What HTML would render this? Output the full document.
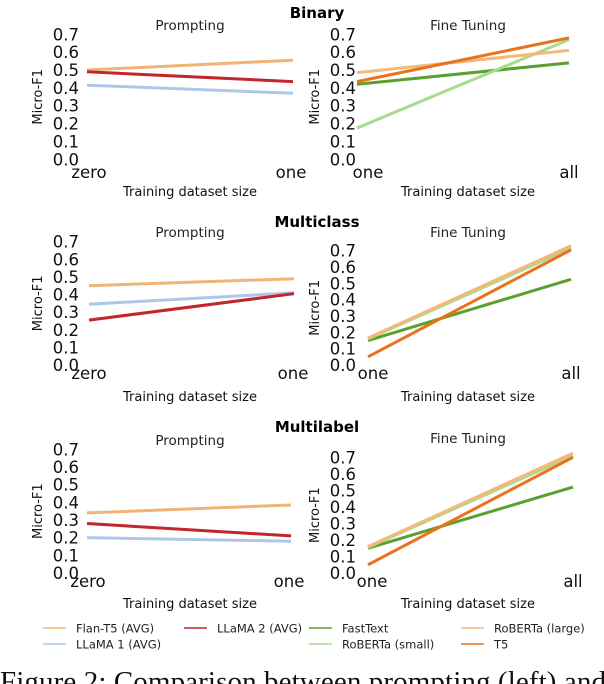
<!DOCTYPE html>
<html><head><meta charset="utf-8"><style>
body{margin:0;background:#fff;width:604px;height:684px;overflow:hidden}
svg{display:block}
text{font-family:"DejaVu Sans","Liberation Sans",sans-serif}
</style></head><body>
<svg id="c" width="604" height="684"></svg>
<script>
const seriesNames=["Flan-T5 (AVG)","LLaMA 1 (AVG)","LLaMA 2 (AVG)","FastText","RoBERTa (small)","RoBERTa (large)","T5"];
const seriesColors=["#f0b575","#aec7e8","#c1272d","#5aa02c","#a6dc8c","#f5b87a","#e8731c"];
const yTicks=[0,0.1,0.2,0.3,0.4,0.5,0.6,0.7];
const promptCats=["zero","one"];
const ftCats=["one","all"];
const rowTitles=["Binary","Multiclass","Multilabel"];
// prompting: Flan, LLaMA1, LLaMA2
const binPromptFlan=[0.50,0.555], binPromptL1=[0.415,0.37], binPromptL2=[0.49,0.435];
const mcPromptFlan=[0.45,0.49], mcPromptL1=[0.345,0.41], mcPromptL2=[0.255,0.405];
const mlPromptFlan=[0.34,0.385], mlPromptL1=[0.20,0.18], mlPromptL2=[0.28,0.21];
// fine tuning: FastText, RoBERTa small, RoBERTa large, T5
const binFtFast=[0.42,0.54], binFtSmall=[0.175,0.67], binFtLarge=[0.485,0.61], binFtT5=[0.435,0.68];
const mcFtFast=[0.15,0.525], mcFtSmall=[0.16,0.715], mcFtLarge=[0.165,0.73], mcFtT5=[0.05,0.705];
const mlFtFast=[0.15,0.52], mlFtSmall=[0.155,0.71], mlFtLarge=[0.16,0.725], mlFtT5=[0.05,0.70];

const svg=document.getElementById('c');
const NS='http://www.w3.org/2000/svg';
function mk(tag,attrs,txt){const e=document.createElementNS(NS,tag);for(const k in attrs)e.setAttribute(k,attrs[k]);if(txt!==undefined)e.textContent=txt;svg.appendChild(e);return e;}

const rows=[
 {title:rowTitles[0],ty:12,
  L:{y0:159.3,top:34.3,x0:87,x1:293,lab:[89,291],labY:178,titleY:31,labR:79},
  R:{y0:159.3,top:34.3,x0:357,x1:569,lab:[368,569],labY:178,titleY:31,labR:356},
  axY:196,
  prompt:[[binPromptFlan,0],[binPromptL1,1],[binPromptL2,2]],
  ft:[[binFtFast,3],[binFtSmall,4],[binFtLarge,5],[binFtT5,6]]},
 {title:rowTitles[1],ty:221,
  L:{y0:365,top:241.7,x0:89,x1:294,lab:[89,293],labY:379,titleY:238,labR:79},
  R:{y0:365,top:250.7,x0:368,x1:571,lab:[373,571],labY:379,titleY:238,labR:356},
  axY:401,
  prompt:[[mcPromptFlan,0],[mcPromptL1,1],[mcPromptL2,2]],
  ft:[[mcFtFast,3],[mcFtSmall,4],[mcFtLarge,5],[mcFtT5,6]]},
 {title:rowTitles[2],ty:426,
  L:{y0:573,top:449.3,x0:87,x1:291,lab:[88,289],labY:587,titleY:446,labR:79},
  R:{y0:573,top:457.3,x0:368,x1:573,lab:[372,573],labY:587,titleY:444,labR:356},
  axY:608,
  prompt:[[mlPromptFlan,0],[mlPromptL1,1],[mlPromptL2,2]],
  ft:[[mlFtFast,3],[mlFtSmall,4],[mlFtLarge,5],[mlFtT5,6]]}
];

function panel(p,cats,series,side,ri,titleCx,subtitle,axY,ylabX){
  const ppu=(p.y0-p.top)/0.7;
  const yS=v=>p.y0-v*ppu;
  const xS=i=>p.x0+(p.x1-p.x0)*i/(cats.length-1);
  const st=mk('text',{x:titleCx,y:p.titleY-1,'text-anchor':'middle','font-size':13.5,fill:'#222'},subtitle);
  
  
  yTicks.forEach(t=>{
    const e=mk('text',{x:p.labR,y:yS(t)+6,'text-anchor':'end','font-size':16.5,fill:'#111'},t.toFixed(1));
    
    
  });
  cats.forEach((c,i)=>{
    const e=mk('text',{x:p.lab[i],y:p.labY,'text-anchor':'middle','font-size':16.5,fill:'#111'},c);
    
    
  });
  const at=mk('text',{x:titleCx,y:axY,'text-anchor':'middle','font-size':13,fill:'#111'},'Training dataset size');
  
  
  const yc=(p.y0+p.top)/2;
  const yl=mk('text',{x:ylabX,y:yc,'text-anchor':'middle','font-size':13,fill:'#111',transform:'rotate(-90 '+ylabX+' '+yc+')'},'Micro-F1');
  
  
  series.forEach(([vals,si])=>{
    const pts=vals.map((v,i)=>xS(i)+','+yS(v)).join(' ');
    const l=mk('polyline',{points:pts,fill:'none',stroke:seriesColors[si],'stroke-width':3});
    
    
  });
}

rows.forEach((r,ri)=>{
  const t=mk('text',{x:317,y:r.ty+6,'text-anchor':'middle','font-size':15,'font-weight':'bold',fill:'#000'},r.title);
  
  
  panel(r.L,promptCats,r.prompt,'left',ri,190,'Prompting',r.axY,42);
  panel(r.R,ftCats,r.ft,'right',ri,468,'Fine Tuning',r.axY,319);
});

const legendPos=[[43,628],[43,644],[184,628],[309,628],[309,644],[461,628],[461,644]];
const legendOrder=[0,1,2,3,4,5,6];
legendOrder.forEach((si,k)=>{
  const [x,y]=legendPos[k];
  const l=mk('line',{x1:x,y1:y,x2:x+23,y2:y,stroke:seriesColors[si],'stroke-width':1.5});
  
  
  const t=mk('text',{x:x+33,y:y+4.5,'font-size':11.5,fill:'#222'},seriesNames[si]);
  
  
});
const cap=mk('text',{x:0,y:691,'font-size':29,fill:'#111','textLength':606},'Figure 2: Comparison between prompting (left) and');


cap.style.fontFamily='"Liberation Serif",serif';
</script>
</body></html>
